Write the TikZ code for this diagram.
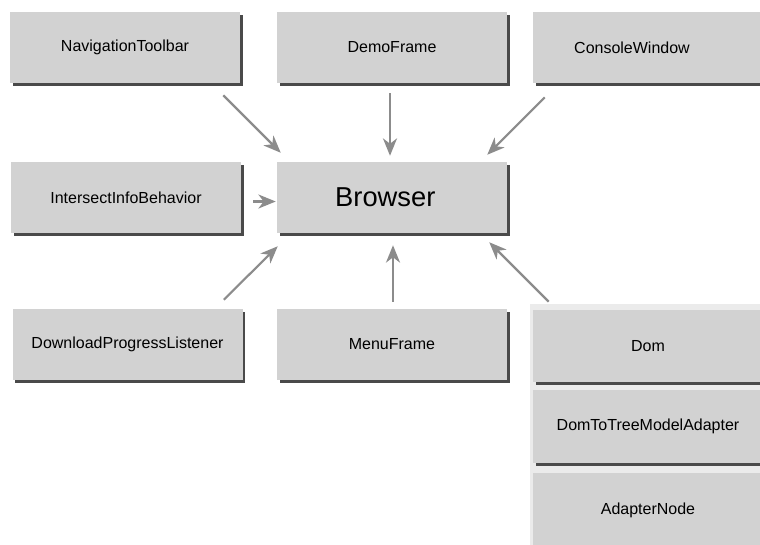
\documentclass[tikz,border=0pt]{standalone}
\usepackage{fontspec}
\setmainfont{Liberation Sans}
\usetikzlibrary{arrows.meta,shadows,calc}
\definecolor{boxfill}{HTML}{D2D2D2}
\definecolor{boxshade}{HTML}{4A4A4A}
\definecolor{groupfill}{HTML}{EBEBEB}
\definecolor{linkgray}{HTML}{8C8C8C}
\tikzset{
  classbox/.style={rectangle, fill=boxfill, inner sep=0pt,
    minimum width=172.5pt, minimum height=53.25pt,
    font=\fontsize{12}{14}\selectfont,
    drop shadow={shadow xshift=2.2pt, shadow yshift=-2.2pt, fill=boxshade, opacity=1}},
  groupbox/.style={rectangle, fill=groupfill, inner sep=0pt},
  link/.style={draw=linkgray, line width=1.6pt,
    -{Stealth[length=13pt, width=10.5pt, inset=4pt]}}
}
\begin{document}
\begin{tikzpicture}[x=0.75pt, y=-0.75pt]
  \useasboundingbox (0,0) rectangle (760,544);
  \fill[white] (0,0) rectangle (760,544);
  \clip (0,0) rectangle (760,544);

  % top row
  \node[classbox] (nav) at (125,47.5) {NavigationToolbar};
  \node[classbox] (demo) at (392,47.5) {DemoFrame};
  \node[classbox] (console) at (648,47.5) {ConsoleWindow\hspace*{24pt}};

  % middle row
  \node[classbox] (intersect) at (126,197.5) {IntersectInfoBehavior};
  \node[classbox, font=\fontsize{20.5}{24}\selectfont] (browser) at (392,197.5) {Browser\hspace*{10pt}};

  % bottom row
  \node[classbox] (download) at (127.5,344.5) {DownloadProgressListener};
  \node[classbox] (menu) at (392,344.5) {MenuFrame};

  % stacked group on the right
  \node[groupbox, minimum width=180pt, minimum height=184.5pt] (domgroup) at (650,427) {};
  \node[classbox, minimum height=54pt] (dom) at (648,346) {Dom};
  \node[classbox, minimum height=54.75pt] (domtree) at (648,426.5) {DomToTreeModelAdapter};
  \node[classbox, minimum height=55.5pt] (adapter) at (648,510) {AdapterNode};

  % dependencies pointing at the browser
  \draw[link] ($(nav.south east)+(-17,12)$) -- ($(browser.north west)+(4,-9)$);
  \draw[link] ($(demo.south)+(-2,10)$) -- ($(browser.north)+(-2,-6)$);
  \draw[link] ($(console.south west)+(12,14)$) -- ($(browser.north east)+(-20,-7)$);
  \draw[link] ($(intersect.east)+(12,4)$) -- ($(browser.west)+(-1,4)$);
  \draw[link] ($(download.north east)+(-19,-9)$) -- ($(browser.south west)+(1,13)$);
  \draw[link] ($(menu.north)+(1,-7)$) -- ($(browser.south)+(1,12)$);
  \draw[link] ($(domgroup.north west)+(19,-2)$) -- ($(browser.south east)+(-18,9)$);
\end{tikzpicture}
\end{document}
